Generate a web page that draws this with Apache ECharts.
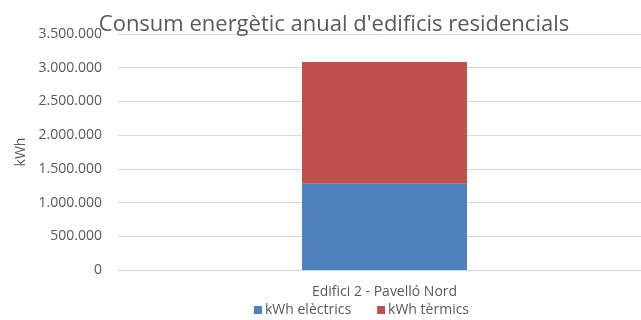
<!DOCTYPE html>
<html>
<head>
<meta charset="utf-8">
<script src="https://cdn.jsdelivr.net/npm/echarts@6/dist/echarts.min.js"></script>
<style>
html,body{margin:0;padding:0;background:#fff;}
#c{width:641px;height:320px;}
</style>
</head>
<body>
<div id="c"></div>
<script>
const categories = ["Edifici 2 - Pavelló Nord"];
const electrics = [1280000];
const termics = [1805000];
const seriesNames = ["kWh elèctrics", "kWh tèrmics"];
const yTicks = [0, 500000, 1000000, 1500000, 2000000, 2500000, 3000000, 3500000];

function fmt(v){ return String(v).replace(/\B(?=(\d{3})+(?!\d))/g, "."); }

const yMin = yTicks[0], yMax = yTicks[yTicks.length-1];
const chart = echarts.init(document.getElementById('c'), null, {renderer:'canvas'});
chart.setOption({
  animation:false,
  textStyle:{fontFamily:"Open Sans"},
  title:{
    text:"Consum energètic anual d'edificis residencials",
    left:329, top:9, textAlign:'center',
    textStyle:{fontFamily:"Open Sans", fontSize:22, fontWeight:'normal', color:'#595959'}
  },
  legend:{
    top:298, left:249, itemWidth:8, itemHeight:8, itemGap:26,
    icon:'rect',
    textStyle:{fontFamily:"Open Sans", fontSize:14, color:'#595959', padding:[0,0,0,-2]},
    data:seriesNames
  },
  grid:[
    {left:118, top:34, right:0, bottom:50},
    {left:128, top:34, right:0, bottom:50}
  ],
  xAxis:[
    {type:'category', data:categories, gridIndex:0,
     axisLine:{lineStyle:{color:'#d9d9d9'}}, axisTick:{show:false}, axisLabel:{show:false}},
    {type:'category', data:categories, gridIndex:1,
     axisLine:{show:false}, axisTick:{show:false},
     axisLabel:{fontFamily:"Open Sans", fontSize:14, color:'#595959', margin:15}}
  ],
  yAxis:[
    {type:'value', gridIndex:0, min:yMin, max:yMax, interval:500000,
     name:'kWh', nameLocation:'middle', nameGap:89, nameRotate:90,
     nameTextStyle:{fontFamily:"Open Sans", fontSize:14, color:'#595959'},
     axisLine:{show:false}, axisTick:{show:false},
     splitLine:{lineStyle:{color:'#d9d9d9'}},
     axisLabel:{fontFamily:"Open Sans", fontSize:14, color:'#595959', margin:16, formatter:fmt}},
    {type:'value', gridIndex:1, min:yMin, max:yMax, interval:500000, show:false,
     splitLine:{show:false}}
  ],
  series:[
    {name:seriesNames[0], type:'bar', stack:'a', xAxisIndex:1, yAxisIndex:1, data:electrics, barWidth:165, itemStyle:{color:'#4f81bd'}},
    {name:seriesNames[1], type:'bar', stack:'a', xAxisIndex:1, yAxisIndex:1, data:termics, barWidth:165, itemStyle:{color:'#c0504d'}}
  ]
});
</script>
</body>
</html>
